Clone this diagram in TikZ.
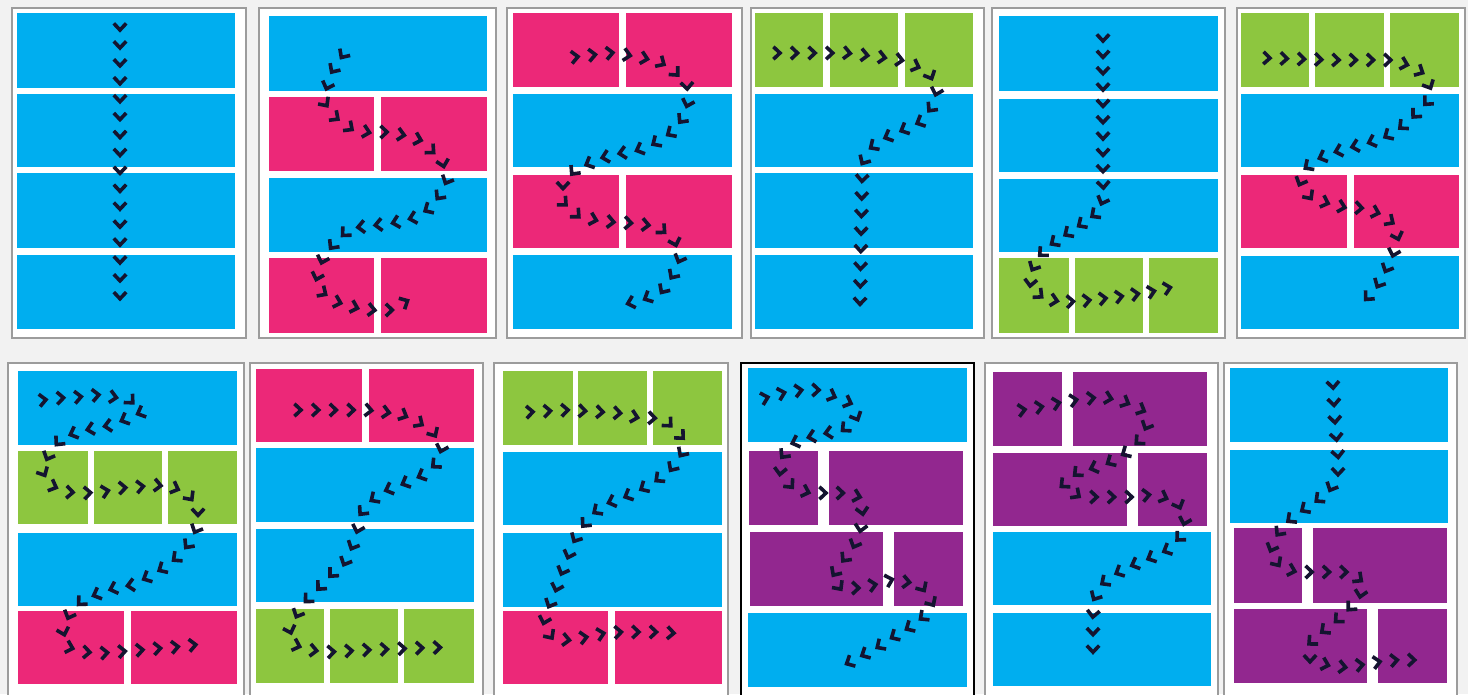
\documentclass[tikz,border=0pt]{standalone}
\usepackage{xcolor}
\usetikzlibrary{decorations.markings}

\definecolor{cblue}{HTML}{00AEEF}
\definecolor{cpink}{HTML}{EC2878}
\definecolor{cgreen}{HTML}{8DC63F}
\definecolor{cpurple}{HTML}{92278F}
\definecolor{bgray}{HTML}{F2F2F2}
\definecolor{fgray}{HTML}{9C9C9C}
\definecolor{chevcol}{HTML}{141430}

\begin{document}
\begin{tikzpicture}[
    x=1pt, y=-1pt,
    page/.style={draw=fgray, line width=1.5pt, fill=white},
    bl/.style={fill=cblue},
    pk/.style={fill=cpink},
    gr/.style={fill=cgreen},
    pu/.style={fill=cpurple},
    chev/.style={draw=chevcol, line width=3.6pt, line join=miter},
    readpath/.style={postaction={decorate, decoration={markings,
        mark=between positions 0 and 1 step #1 with
        {\draw[chev] (-3.6pt,6.2pt) -- (3pt,0pt) -- (-3.6pt,-6.2pt);}}}}
]
    \useasboundingbox (0,0) rectangle (1468,694);
    \fill[bgray] (0,0) rectangle (1468,694);

    % Top row
    % Panel 1
    \draw[page] (12,8) rectangle (246,338);
    \fill[bl] (17,13) rectangle (235,88);
    \fill[bl] (17,94) rectangle (235,167);
    \fill[bl] (17,173) rectangle (235,248);
    \fill[bl] (17,255) rectangle (235,329);
    \path[readpath=0.0666] (120,27) -- (120,296);

    % Panel 2
    \draw[page] (259,8) rectangle (496,338);
    \fill[bl] (269,16) rectangle (487,91);
    \fill[pk] (269,97) rectangle (374,171);
    \fill[pk] (381,97) rectangle (487,171);
    \fill[bl] (269,178) rectangle (487,252);
    \fill[pk] (269,258) rectangle (374,333);
    \fill[pk] (381,258) rectangle (487,333);
    \path[readpath=0.0357] plot coordinates {(343,55) (333,70) (327,87)
        (325,103) (335,117) (350,128) (367,132) (387,132) (403,135) (420,140) (433,152)
        (443,163) (447,180) (440,195) (430,208) (413,218) (393,223) (377,225) (360,227)
        (345,233) (333,245) (323,258) (317,277) (322,292) (337,302) (357,308) (373,310)
        (390,310) (405,302)};

    % Panel 3
    \draw[page] (507,8) rectangle (742,338);
    \fill[pk] (513,13) rectangle (619,87);
    \fill[pk] (626,13) rectangle (732,87);
    \fill[bl] (513,94) rectangle (732,167);
    \fill[pk] (513,175) rectangle (619,248);
    \fill[pk] (626,175) rectangle (732,248);
    \fill[bl] (513,255) rectangle (732,329);
    \path[readpath=0.0333] plot coordinates {(575,57) (592,55) (610,53)
        (627,55) (643,58) (660,62) (673,70) (687,85) (688,102) (683,118) (672,132)
        (655,143) (638,150) (622,153) (605,157) (590,163) (575,170) (563,185) (563,202)
        (577,215) (595,220) (613,222) (630,223) (647,225) (662,230) (675,242) (680,258)
        (673,275) (663,290) (647,298) (630,303)};

    % Panel 4
    \draw[page] (751,8) rectangle (984,338);
    \fill[gr] (755,13) rectangle (823,87);
    \fill[gr] (830,13) rectangle (898,87);
    \fill[gr] (905,13) rectangle (973,87);
    \fill[bl] (755,94) rectangle (973,167);
    \fill[bl] (755,173) rectangle (973,248);
    \fill[bl] (755,255) rectangle (973,329);
    \path[readpath=0.0416] plot coordinates {(777,53) (810,53) (847,53)
        (880,57) (900,60) (918,67) (930,75) (937,90) (932,107) (920,122) (903,130)
        (887,137) (872,147) (863,162) (862,180) (861,240) (860,302)};

    % Panel 5
    \draw[page] (992,8) rectangle (1225,338);
    \fill[bl] (999,16) rectangle (1218,91);
    \fill[bl] (999,99) rectangle (1218,172);
    \fill[bl] (999,179) rectangle (1218,252);
    \fill[gr] (999,258) rectangle (1069,333);
    \fill[gr] (1075,258) rectangle (1143,333);
    \fill[gr] (1149,258) rectangle (1218,333);
    \path[readpath=0.0384] plot coordinates {(1103,38) (1103,110)
        (1103,180) (1104,197) (1098,212) (1083,223) (1068,233) (1053,243) (1040,255)
        (1032,270) (1030,287) (1043,298) (1062,302) (1082,301) (1117,297) (1150,292)
        (1168,288)};

    % Panel 6
    \draw[page] (1237,8) rectangle (1465,338);
    \fill[gr] (1241,13) rectangle (1309,87);
    \fill[gr] (1315,13) rectangle (1384,87);
    \fill[gr] (1390,13) rectangle (1459,87);
    \fill[bl] (1241,94) rectangle (1459,167);
    \fill[pk] (1241,175) rectangle (1347,248);
    \fill[pk] (1354,175) rectangle (1459,248);
    \fill[bl] (1241,256) rectangle (1459,329);
    \path[readpath=0.0322] plot coordinates {(1267,58) (1300,59)
        (1337,60) (1370,60) (1390,60) (1408,65) (1423,73) (1430,87) (1427,102) (1413,117)
        (1400,128) (1385,137) (1368,143) (1352,147) (1335,152) (1320,158) (1307,167)
        (1300,183) (1310,197) (1327,203) (1343,207) (1362,208) (1378,213) (1393,223)
        (1398,238) (1393,255) (1385,272) (1377,287) (1367,298)};

    % Bottom row
    % Panel 7
    \draw[page] (8,363) rectangle (244,700);
    \fill[bl] (18,371) rectangle (237,445);
    \fill[gr] (18,451) rectangle (88,524);
    \fill[gr] (94,451) rectangle (162,524);
    \fill[gr] (168,451) rectangle (237,524);
    \fill[bl] (18,533) rectangle (237,606);
    \fill[pk] (18,611) rectangle (124,684);
    \fill[pk] (131,611) rectangle (237,684);
    \path[readpath=0.0238] plot coordinates {(43,400) (60,398) (78,397)
        (97,395) (113,397) (130,400) (142,412) (128,418) (112,425) (95,428) (77,432)
        (62,438) (50,452) (42,470) (50,485) (67,492) (85,493) (102,492) (120,488)
        (137,487) (155,485) (172,487) (187,493) (198,508) (198,525) (190,542) (180,555)
        (165,567) (148,577) (132,585) (115,588) (100,593) (83,600) (70,613) (63,630)
        (68,647) (85,652) (103,653) (140,650) (175,647) (193,645)};

    % Panel 8
    \draw[page] (250,363) rectangle (483,700);
    \fill[pk] (256,369) rectangle (362,442);
    \fill[pk] (369,369) rectangle (474,442);
    \fill[bl] (256,448) rectangle (474,522);
    \fill[bl] (256,529) rectangle (474,602);
    \fill[gr] (256,609) rectangle (324,683);
    \fill[gr] (330,609) rectangle (398,683);
    \fill[gr] (404,609) rectangle (474,683);
    \path[readpath=0.0303] plot coordinates {(298,410) (333,410)
        (367,410) (385,412) (403,415) (418,422) (433,432) (442,447) (437,463) (423,475)
        (405,483) (387,490) (372,500) (362,512) (358,528) (353,545) (345,562) (333,573)
        (320,587) (307,600) (298,613) (290,630) (295,645) (310,650) (328,652) (365,650)
        (418,648) (455,647)};

    % Panel 9
    \draw[page] (494,363) rectangle (728,700);
    \fill[gr] (503,371) rectangle (573,445);
    \fill[gr] (578,371) rectangle (647,445);
    \fill[gr] (653,371) rectangle (722,445);
    \fill[bl] (503,452) rectangle (722,525);
    \fill[bl] (503,533) rectangle (722,607);
    \fill[pk] (503,611) rectangle (608,684);
    \fill[pk] (615,611) rectangle (722,684);
    \path[readpath=0.0322] plot coordinates {(530,412) (567,410)
        (602,412) (618,413) (635,417) (653,418) (668,423) (682,437) (682,453) (672,468)
        (657,480) (640,490) (625,497) (608,503) (595,512) (582,527) (573,543) (567,560)
        (560,577) (555,593) (548,608) (543,625) (552,638) (568,640) (587,637) (605,633)
        (622,632) (657,632) (672,633)};

    % Panel 10
    \draw[page, draw=black] (741,363) rectangle (974,700);
    \fill[bl] (748,368) rectangle (967,442);
    \fill[pu] (749,451) rectangle (818,525);
    \fill[pu] (829,451) rectangle (963,525);
    \fill[pu] (750,532) rectangle (883,606);
    \fill[pu] (894,532) rectangle (963,606);
    \fill[bl] (748,613) rectangle (967,687);
    \path[readpath=0.0285] plot coordinates {(765,398) (783,393)
        (802,390) (818,390) (835,397) (850,403) (857,418) (843,430) (827,433) (810,437)
        (793,443) (782,457) (780,473) (792,487) (810,493) (828,493) (845,493) (860,497)
        (863,515) (860,532) (853,548) (842,562) (832,577) (840,588) (857,588) (873,585)
        (890,580) (907,582) (922,587) (932,603) (923,617) (910,627) (893,637) (878,647)
        (863,655) (848,663)};

    % Panel 11
    \draw[page] (985,363) rectangle (1218,700);
    \fill[pu] (993,372) rectangle (1062,446);
    \fill[pu] (1073,372) rectangle (1207,446);
    \fill[pu] (993,453) rectangle (1127,526);
    \fill[pu] (1138,453) rectangle (1207,526);
    \fill[bl] (993,532) rectangle (1211,605);
    \fill[bl] (993,613) rectangle (1211,686);
    \path[readpath=0.0312] plot coordinates {(1022,410) (1040,407)
        (1058,403) (1075,400) (1092,398) (1108,398) (1125,402) (1142,410) (1147,425)
        (1140,440) (1127,452) (1110,462) (1093,468) (1077,473) (1063,485) (1077,495)
        (1093,497) (1112,497) (1130,497) (1147,495) (1163,497) (1178,503) (1185,520)
        (1180,537) (1167,550) (1150,558) (1133,565) (1117,573) (1103,583) (1095,597)
        (1093,615) (1093,650)};

    % Panel 12
    \draw[page] (1224,363) rectangle (1457,700);
    \fill[bl] (1230,368) rectangle (1448,442);
    \fill[bl] (1230,450) rectangle (1448,523);
    \fill[pu] (1234,528) rectangle (1302,603);
    \fill[pu] (1313,528) rectangle (1447,603);
    \fill[pu] (1234,609) rectangle (1367,683);
    \fill[pu] (1378,609) rectangle (1447,683);
    \path[readpath=0.0344] plot coordinates {(1333,385) (1335,422)
        (1338,455) (1338,473) (1330,490) (1315,502) (1300,512) (1287,522) (1277,535)
        (1270,552) (1280,567) (1297,572) (1313,572) (1332,572) (1350,572) (1363,582)
        (1360,597) (1348,610) (1335,622) (1322,632) (1310,643) (1310,660) (1327,665)
        (1343,667) (1360,665) (1378,662) (1397,660) (1413,660)};
\end{tikzpicture}
\end{document}
